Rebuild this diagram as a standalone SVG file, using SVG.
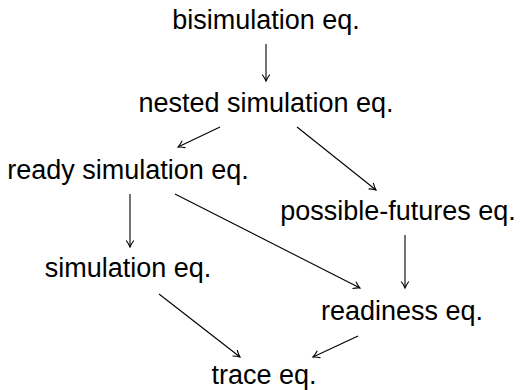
<svg xmlns="http://www.w3.org/2000/svg" width="526" height="390" viewBox="0 0 526 390">
<style>
text{font-family:"Liberation Sans",Arial,sans-serif;font-size:27px;fill:#000;text-anchor:middle}
.e line{stroke:#000;stroke-width:1.1;marker-end:url(#a)}
</style>
<defs>
<marker id="a" markerWidth="12" markerHeight="12" refX="8" refY="6" orient="auto" markerUnits="userSpaceOnUse">
<path d="M1.5,2.2 Q5,4.8 8,6 Q5,7.2 1.5,9.8" fill="none" stroke="#000" stroke-width="1.1"/>
</marker>
</defs>
<rect width="526" height="390" fill="#fff"/>
<g class="e" id="connectors">
<line x1="266" y1="44" x2="266" y2="81"/>
<line x1="220" y1="127" x2="178" y2="147"/>
<line x1="297" y1="127" x2="376" y2="190"/>
<line x1="130" y1="194" x2="130" y2="247"/>
<line x1="175" y1="194" x2="360" y2="288"/>
<line x1="405" y1="235" x2="405" y2="288"/>
<line x1="159" y1="294" x2="240" y2="357"/>
<line x1="358" y1="336" x2="313" y2="357"/>
</g>
<g id="bisim"><text x="266" y="29">bisimulation eq.</text></g>
<g id="nested"><text x="266" y="112">nested simulation eq.</text></g>
<g id="ready"><text x="128" y="179">ready simulation eq.</text></g>
<g id="futures"><text x="398" y="220">possible-futures eq.</text></g>
<g id="sim"><text x="128" y="277">simulation eq.</text></g>
<g id="readiness"><text x="402" y="320">readiness eq.</text></g>
<g id="trace"><text x="264" y="384">trace eq.</text></g>
</svg>
